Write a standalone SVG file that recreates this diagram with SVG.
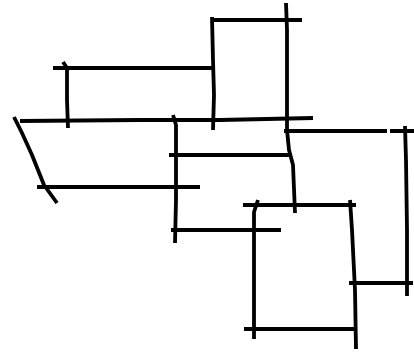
<svg xmlns="http://www.w3.org/2000/svg" width="414" height="352" viewBox="0 0 414 352">
<style>
.s{fill:none;stroke:#000;stroke-width:3.8;stroke-linecap:butt;stroke-linejoin:round}
</style>
<rect width="414" height="352" fill="#fff"/>
<g id="sketch" class="s">
<path d="M53,68 L100,68 L213,68"/>
<path d="M63,62 L67,68 L67,100 L68,128"/>
<path d="M20,121 L140,120 L220,120 L313,118"/>
<path d="M14,117 L22,133 L32,155 L44,185 L57,203"/>
<path d="M173,115 L176,125 L176,200 L175,243"/>
<path d="M169,155 L289,155"/>
<path d="M37,187 L200,187"/>
<path d="M171,230 L281,230"/>
<path d="M212,17 L213,60 L214,95 L213,130"/>
<path d="M211,20 L302,20"/>
<path d="M286,3 L287,30 L287,130 L289,150 L293,165 L295,213"/>
<path d="M284,131 L387,131 M390,131 L414,131"/>
<path d="M405,126 L406,160 L407,230 L407,296"/>
<path d="M243,205 L356,205"/>
<path d="M258,200 L254,212 L254,280 L254,339"/>
<path d="M350,200 L352,230 L355,290 L356,349"/>
<path d="M244,329 L300,329 L356,329"/>
<path d="M349,283 L413,283"/>
</g>
</svg>
